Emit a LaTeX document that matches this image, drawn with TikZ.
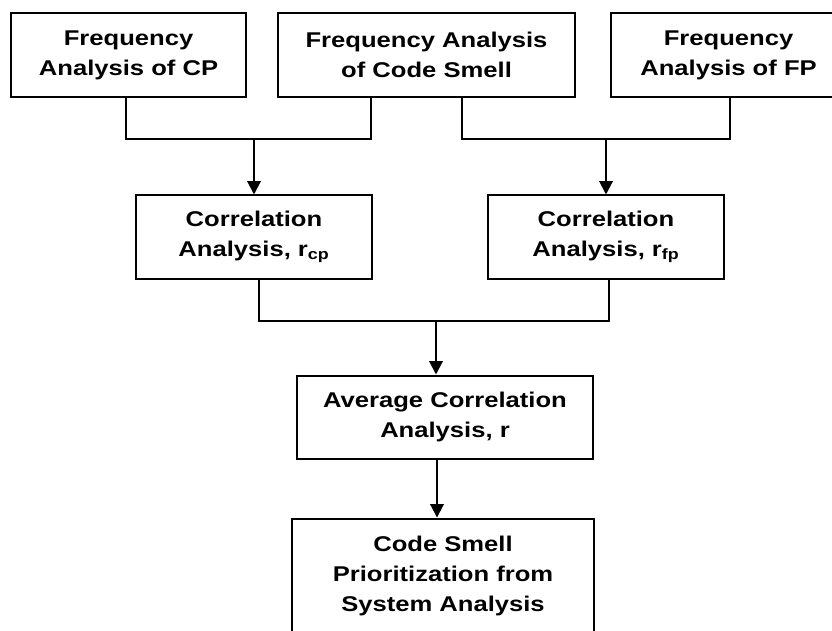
\documentclass[tikz,border=0pt]{standalone}
\usepackage{fontspec}
\setmainfont{Liberation Sans}[FakeStretch=1.2]
\usetikzlibrary{arrows.meta}
\usetikzlibrary{positioning}
\tikzstyle{process} = [rectangle, minimum width=176pt, minimum height=63pt, text centered, align=center, draw=black, line width=1.5pt, font=\fontsize{16pt}{22.5pt}\selectfont\bfseries]
\tikzstyle{line} = [line width=1.5pt]
\tikzstyle{arrow} = [line width=1.5pt,->,>={Triangle[length=10pt,width=10pt]}]

\begin{document}
\begin{tikzpicture}[node distance=136.5pt]
\useasboundingbox (0,0) rectangle (624pt,-473.25pt);

\node [process] (freq_cp) at (96.4pt,-41.25pt) {Frequency\\Analysis of CP};
\node [process, right of=freq_cp, xshift=87pt, minimum width=222.75pt] (freq_cs) {Frequency Analysis\\of Code Smell};
\node [process, right of=freq_cs, xshift=90pt] (freq_fp) {Frequency\\Analysis of FP};

\node [process, below of=freq_cp, xshift=94.1pt, minimum width=177pt, minimum height=62.25pt] (corr_cp) {Correlation\\Analysis, r\textsubscript{cp}};
\node [process, right of=corr_cp, xshift=127.5pt, minimum width=177pt, minimum height=62.25pt] (corr_fp) {Correlation\\Analysis, r\textsubscript{fp}};

\node [process, below of=corr_cp, xshift=143.25pt, yshift=1.5pt, minimum width=222pt, minimum height=62.25pt] (avg_corr) {Average Correlation\\Analysis, r};
\node [process, below of=avg_corr, xshift=-1.5pt, yshift=17.6pt, minimum width=226.5pt, minimum height=85.5pt] (prioritize) {Code Smell\\Prioritization from\\System Analysis};

\coordinate (avg_in) at ([xshift=-6.75pt]avg_corr.north);
\coordinate (avg_out) at ([xshift=-6pt]avg_corr.south);

\draw [line] ([xshift=-2pt]freq_cp.south) -- ++(0,-30.75pt) coordinate (join_cp) -| ([xshift=-41.6pt]freq_cs.south);
\draw [arrow] (join_cp -| corr_cp.north) -- (corr_cp);
\draw [line] ([xshift=26.6pt]freq_cs.south) -- ++(0,-30.75pt) coordinate (join_fp) -| ([xshift=1.1pt]freq_fp.south);
\draw [arrow] (join_fp -| corr_fp.north) -- (corr_fp);

\draw [line] ([xshift=3.75pt]corr_cp.south) -- ++(0,-30.75pt) coordinate (join_r) -| ([xshift=2.25pt]corr_fp.south);
\draw [arrow] (join_r -| avg_in) -- (avg_in);
\draw [arrow] (avg_out) -- (avg_out |- prioritize.north);

\end{tikzpicture}
\end{document}
